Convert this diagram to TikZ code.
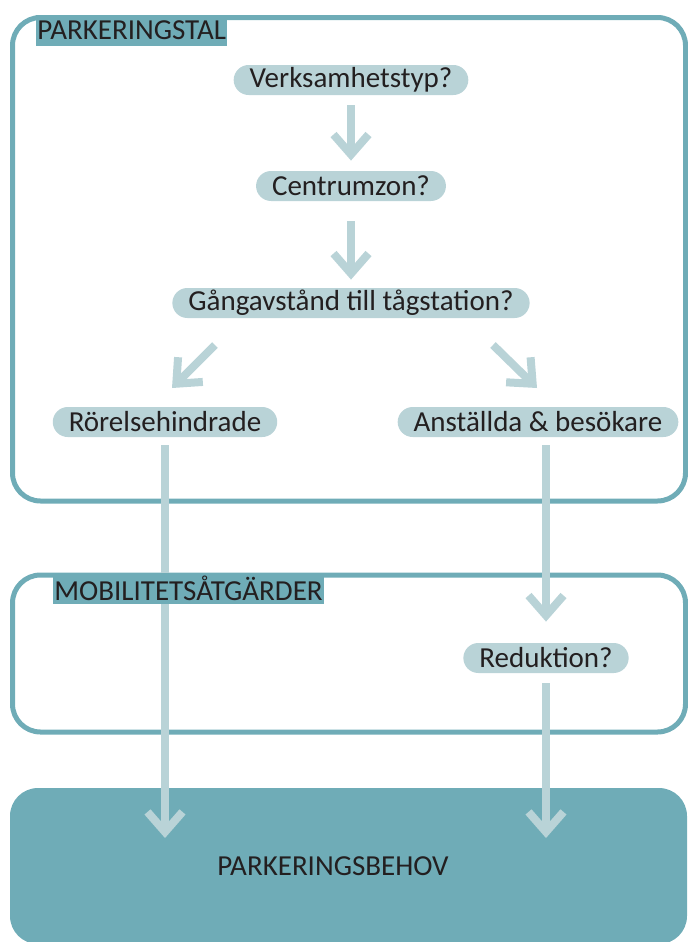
\documentclass[tikz,border=0pt]{standalone}
\usepackage{fontspec}
\setmainfont{Carlito}
\usetikzlibrary{arrows.meta}
\definecolor{boxteal}{HTML}{6FACB7}
\definecolor{pilllight}{HTML}{B9D3D7}
\definecolor{inktext}{HTML}{231F20}
\begin{document}
\begin{tikzpicture}[x=0.5pt,y=-0.5pt]
\tikzstyle{every node}+=[inner sep=0pt, text=inktext, font=\fontsize{14.5}{17}\selectfont]
\tikzstyle{frame}=[draw=boxteal, line width=2.5pt, rounded corners=14pt]
\tikzstyle{tag}=[fill=boxteal, anchor=west, inner xsep=0.5pt, minimum height=15.5pt]
\tikzstyle{pill}=[fill=pilllight, rounded corners=7.5pt, inner xsep=8pt, minimum height=15pt]
\tikzstyle{flow}=[draw=pilllight, line width=4pt, -{Straight Barb[length=10pt,width=17.5pt]}]
\useasboundingbox (0,0) rectangle (688,942);
% frames
\draw [frame] (12.5,17.5) rectangle (685.5,501);
\draw [frame] (12.5,575) rectangle (685.5,732);
\node [fill=boxteal, rounded corners=14pt, minimum width=338.5pt, minimum height=78pt] (behov) at (348.5,866) {};
\node (behovtext) at (333,866) {PARKERINGSBEHOV};
% questions
\node [pill] (verk) at (351,80) {Verksamhetstyp?};
\node [pill] (centr) at (351,186) {Centrumzon?};
\node [pill] (gang) at (351,303) {Gångavstånd till tågstation?};
\node [pill] (rorelse) at (165,422) {Rörelsehindrade};
\node [pill] (anst) at (538,422) {Anställda \& besökare};
\node [pill] (reduk) at (546,658) {Reduktion?};
\coordinate (gsw) at (215,345);
\coordinate (rne) at (172,388);
\coordinate (gse) at (493,345);
\coordinate (ane) at (537,388);
% arrows
\draw [flow, shorten <=5pt, shorten >=5pt] (verk) -- (centr);
\draw [flow, shorten <=10pt, shorten >=4pt] (centr) -- (gang);
\draw [flow] (gsw) -- (rne);
\draw [flow] (gse) -- (ane);
\draw [flow, shorten <=4pt, shorten >=14pt] (rorelse.south) -- (rorelse.south |- behov.center);
\draw [flow, shorten <=4pt, shorten >=10.5pt] (reduk |- anst.south) -- (reduk.north);
\draw [flow, shorten <=5pt, shorten >=14pt] (reduk.south) -- (reduk.south |- behov.center);
% tags
\node [tag] (stal) at (36,30.5) {PARKERINGSTAL};
\node [tag] (mobil) at (53,588) {MOBILITETSÅTGÄRDER};
\end{tikzpicture}
\end{document}
